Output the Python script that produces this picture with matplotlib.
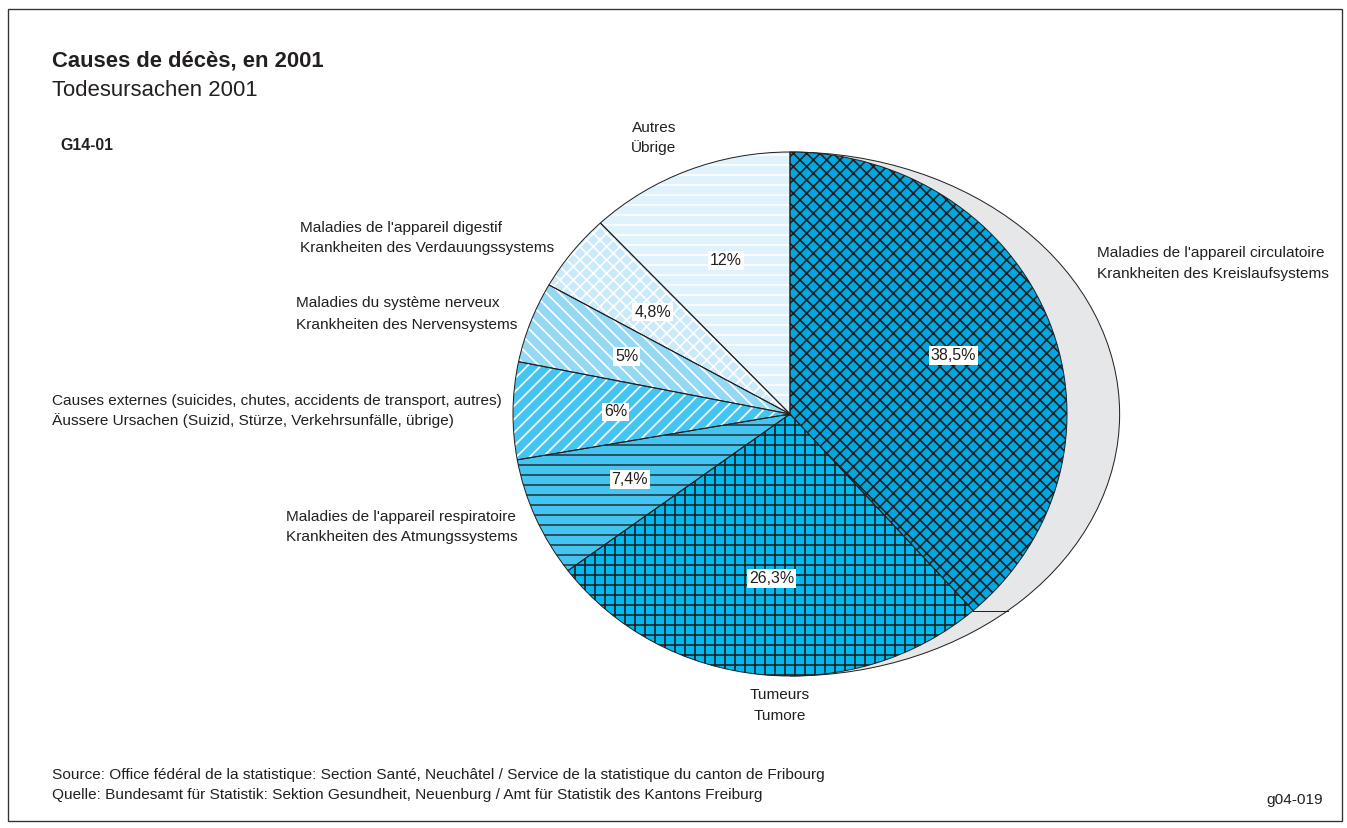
import matplotlib
matplotlib.use('Agg')
import matplotlib.pyplot as plt
from matplotlib.patches import Wedge, Rectangle
from matplotlib.transforms import Affine2D
import numpy as np

plt.rcParams['font.family'] = ['Liberation Sans', 'DejaVu Sans']
plt.rcParams['hatch.linewidth'] = 1.0

# ---------------- data ----------------
cat_fr = ["Maladies de l'appareil circulatoire", "Tumeurs",
          "Maladies de l'appareil respiratoire",
          "Causes externes (suicides, chutes, accidents de transport, autres)",
          "Maladies du système nerveux", "Maladies de l'appareil digestif", "Autres"]
cat_de = ["Krankheiten des Kreislaufsystems", "Tumore",
          "Krankheiten des Atmungssystems",
          "Äussere Ursachen (Suizid, Stürze, Verkehrsunfälle, übrige)",
          "Krankheiten des Nervensystems", "Krankheiten des Verdauungssystems", "Übrige"]
values = [38.5, 26.3, 7.4, 6.0, 5.0, 4.8, 12.0]

title_fr = "Causes de décès, en 2001"
title_de = "Todesursachen 2001"
code = "G14-01"
source_fr = ("Source: Office fédéral de la statistique: Section Santé, Neuchâtel / "
             "Service de la statistique du canton de Fribourg")
source_de = ("Quelle: Bundesamt für Statistik: Sektion Gesundheit, Neuenburg / "
             "Amt für Statistik des Kantons Freiburg")
ref = "g04-019"

# ---------------- style ----------------
fill_colors = ['#00a8e1', '#00b9ef', '#44c5f1', '#44c5f1', '#93d9f6', '#c9eafa', '#e0f2fb']
hatches = ['xxx', '++', '--', '///', '\\\\\\', 'xxx', '--']
hatch_colors = ['#231f20', '#231f20', '#2a3a44', 'white', 'white', 'white', 'white']
TXT = '#231f20'
LBL = 9.2

W, H, DPI = 1347, 828, 120
CX, CY, RX, RY = 790, 414, 277, 262   # pie centre / radii in pixels
SHADOW_SX = 1.19

fig = plt.figure(figsize=(W / DPI, H / DPI), dpi=DPI)
fig.patch.set_facecolor('white')
ax = fig.add_axes([0, 0, 1, 1])


def P(x, y):
    return (x / W, 1 - y / H)


# grey shadow (right half ellipse)
shadow = Wedge((0, 0), 1, -90, 90, facecolor='#e6e7e8', edgecolor=TXT, linewidth=0.6,
               transform=Affine2D().scale(SHADOW_SX, 1) + ax.transData, zorder=0)
ax.add_patch(shadow)


def fmt(v):
    return f"{v:g}".replace('.', ',') + '%'


wedges, _, autotexts = ax.pie(values, colors=fill_colors, hatch=hatches, startangle=90,
                              counterclock=False, autopct='%1.1f', pctdistance=0.63,
                              wedgeprops=dict(linewidth=0))
for w, hc in zip(wedges, hatch_colors):
    w.set_edgecolor(hc)
    if hasattr(w, 'set_hatchcolor'):
        w.set_hatchcolor(hc)
    w.set_linewidth(0)
    w.set_zorder(1)
for t, v in zip(autotexts, values):
    t.set_text(fmt(v))
    t.set_fontsize(9.6)
    t.set_color(TXT)
    t.set_zorder(5)
    t.set_bbox(dict(boxstyle='square,pad=0.12', fc='white', ec='none'))

# outlines
outl, _ = ax.pie(values, colors=['none'] * len(values), startangle=90, counterclock=False,
                 wedgeprops=dict(fill=False, edgecolor=TXT, linewidth=0.6))
for w in outl:
    w.set_zorder(3)

# horizontal separator in shadow at end of first slice
theta = np.deg2rad(90 - 360 * values[0] / sum(values))
x0, y0 = np.cos(theta), np.sin(theta)
x1 = SHADOW_SX * np.sqrt(max(0.0, 1 - y0 ** 2))
ax.plot([x0, x1], [y0, y0], color=TXT, linewidth=0.6, zorder=0.5)

ax.set_aspect('auto')
ax.set_xlim(-CX / RX, (W - CX) / RX)
ax.set_ylim((CY - H) / RY, CY / RY)
ax.axis('off')

# frame
fig.add_artist(Rectangle(P(8, 821), (1342 - 8) / W, (821 - 9) / H, transform=fig.transFigure,
                         fill=False, edgecolor='#333333', linewidth=0.8))

# titles
fig.text(*P(52, 61), title_fr, fontsize=13.2, fontweight='bold', color=TXT, va='center')
fig.text(*P(52, 91), title_de, fontsize=13.3, color=TXT, va='center')
fig.text(*P(60, 146), code, fontsize=9.5, fontweight='bold', color=TXT, va='center')

# category labels: (x, y first line, y second line, ha)
label_pos = [(1097, 253, 274, 'left'), (780, 695, 716, 'center'),
             (286, 517, 537, 'left'), (52, 401, 421, 'left'),
             (296, 303, 325, 'left'), (300, 228, 248, 'left'),
             (654, 128, 148, 'center')]
for fr, de, (x, y1, y2, ha) in zip(cat_fr, cat_de, label_pos):
    fig.text(*P(x, y1), fr, fontsize=LBL, color=TXT, va='center', ha=ha)
    fig.text(*P(x, y2), de, fontsize=LBL, color=TXT, va='center', ha=ha)

fig.text(*P(52, 775), source_fr, fontsize=LBL, color=TXT, va='center')
fig.text(*P(52, 795), source_de, fontsize=LBL, color=TXT, va='center')
fig.text(*P(1323, 800), ref, fontsize=LBL, color=TXT, va='center', ha='right')

fig.savefig('out.png', dpi=DPI)
